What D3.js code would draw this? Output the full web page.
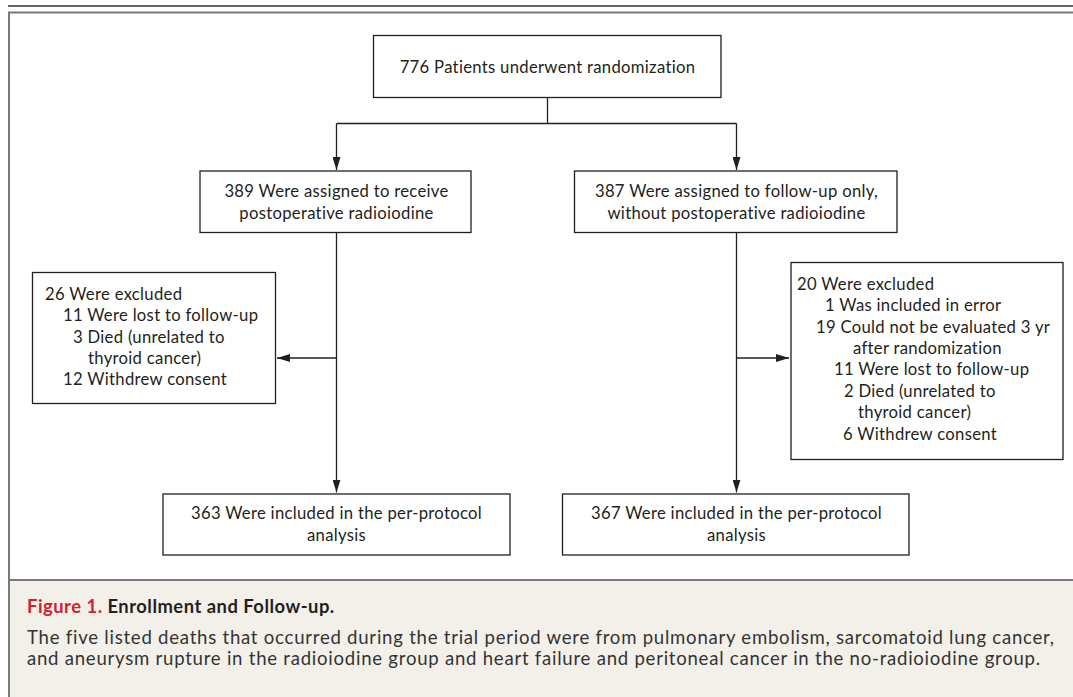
<!DOCTYPE html>
<html>
<head>
<meta charset="utf-8">
<script src="https://cdn.jsdelivr.net/npm/d3@7"></script>
<style>
  html, body { margin: 0; padding: 0; background: #fff; }
  svg { display: block; }
</style>
</head>
<body>
<div id="chart"></div>
<script>
// ---------- DATA ----------
const randomized = ["776 Patients underwent randomization"];
const armAssigned = [
  ["389 Were assigned to receive", "postoperative radioiodine"],
  ["387 Were assigned to follow-up only,", "without postoperative radioiodine"]
];
const armExcluded = [
  ["26 Were excluded", "11 Were lost to follow-up", "3 Died (unrelated to", "thyroid cancer)", "12 Withdrew consent"],
  ["20 Were excluded", "1 Was included in error", "19 Could not be evaluated 3 yr", "after randomization",
   "11 Were lost to follow-up", "2 Died (unrelated to", "thyroid cancer)", "6 Withdrew consent"]
];
const armAnalyzed = [
  ["363 Were included in the per-protocol", "analysis"],
  ["367 Were included in the per-protocol", "analysis"]
];
const captionLabel = "Figure 1.";
const captionTitle = "Enrollment and Follow-up.";
const captionBody = [
  "The five listed deaths that occurred during the trial period were from pulmonary embolism, sarcomatoid lung cancer,",
  "and aneurysm rupture in the radioiodine group and heart failure and peritoneal cancer in the no-radioiodine group."
];

// ---------- LAYOUT ----------
const W = 1073, H = 697;
const FONT = "Lato, 'Open Sans', sans-serif";
const INK = "#231f20";
const svg = d3.select("#chart").append("svg").attr("width", W).attr("height", H);

// fit a font size so that a sample string reaches a target width
function fitSize(str, target, weight, spacing) {
  const t = svg.append("text").attr("font-family", FONT).attr("font-size", 100)
    .attr("font-weight", weight || 400).attr("letter-spacing", 0).text(str);
  const w100 = t.node().getComputedTextLength();
  t.remove();
  const n = str.length;
  return (target - (spacing || 0) * n) / w100 * 100;
}
const boxSpacing = 0.3, capSpacing = 0.75;
const boxSize = (fitSize(randomized[0], 299, 400, boxSpacing) + fitSize(armExcluded[0][1], 194, 400, boxSpacing)) / 2;
const capSize = fitSize(captionBody[0], 1028, 400, capSpacing);
const titleSpacing = 0.5;
const titleSize = fitSize(captionLabel + " " + captionTitle, 308, 700, titleSpacing);

// arrow marker
const defs = svg.append("defs");
defs.append("marker").attr("id", "arr")
  .attr("viewBox", "0 0 13 8").attr("refX", 13).attr("refY", 4)
  .attr("markerWidth", 13).attr("markerHeight", 8).attr("markerUnits", "userSpaceOnUse")
  .attr("orient", "auto")
  .append("path").attr("d", "M0,0 L13,4 L0,8 Z").attr("fill", INK);

// caption background + frame
svg.append("rect").attr("x", 9).attr("y", 580).attr("width", W).attr("height", H - 580).attr("fill", "#f3f0ea");
svg.append("line").attr("x1", 8).attr("x2", W).attr("y1", 6).attr("y2", 6).attr("stroke", "#333").attr("stroke-width", 1.6);
svg.append("path").attr("d", `M${W + 5},12.5 H9 V${H + 5}`).attr("fill", "none").attr("stroke", "#7a7a7a").attr("stroke-width", 2);
svg.append("line").attr("x1", 9).attr("x2", W).attr("y1", 580).attr("y2", 580).attr("stroke", "#7a7a7a").attr("stroke-width", 2);

// boxes
const lineH = 21.4;
function box(x0, y0, x1, y1) {
  svg.append("rect").attr("x", x0).attr("y", y0).attr("width", x1 - x0).attr("height", y1 - y0)
    .attr("fill", "#fff").attr("stroke", INK).attr("stroke-width", 1.3);
}
function centeredLines(lines, cx, cy) {
  const n = lines.length;
  svg.append("g").selectAll("text").data(lines).join("text")
    .attr("x", cx).attr("y", (d, i) => cy + (i - (n - 1) / 2) * lineH)
    .attr("dy", "0.35em").attr("text-anchor", "middle")
    .attr("font-family", FONT).attr("font-size", boxSize).attr("letter-spacing", boxSpacing).attr("fill", INK)
    .text(d => d);
}
function leftLines(lines, xs, y0) {
  svg.append("g").selectAll("text").data(lines).join("text")
    .attr("x", (d, i) => xs[i]).attr("y", (d, i) => y0 + i * lineH)
    .attr("dy", "0.35em").attr("font-family", FONT).attr("font-size", boxSize).attr("letter-spacing", boxSpacing).attr("fill", INK)
    .text(d => d);
}
function link(points, arrow) {
  svg.append("path").attr("d", d3.line()(points)).attr("fill", "none")
    .attr("stroke", INK).attr("stroke-width", 1.3)
    .attr("marker-end", arrow ? "url(#arr)" : null);
}

const cxTop = 547.5, cxL = 336.5, cxR = 736.5;

// connectors
link([[cxTop, 98], [cxTop, 123.5]], false);
link([[cxL, 123.5], [cxR, 123.5]], false);
link([[cxL, 123.5], [cxL, 170]], true);
link([[cxR, 123.5], [cxR, 170]], true);
link([[cxL, 233], [cxL, 492.5]], true);
link([[cxR, 233], [cxR, 492.5]], true);
link([[cxL, 358], [277, 358]], true);
link([[cxR, 358], [789, 358]], true);

// top box
box(373.5, 35.5, 721, 97.5);
centeredLines(randomized, cxTop, 67);

// assigned boxes
box(200, 171, 471, 232.5);
centeredLines(armAssigned[0], cxL, 202);
box(574.5, 171, 897, 232.5);
centeredLines(armAssigned[1], cxR, 202);

// excluded boxes
box(32.5, 272.5, 275.5, 403.5);
leftLines(armExcluded[0], [45, 63, 73, 88, 63], 294);
box(791, 262.5, 1063, 459.5);
leftLines(armExcluded[1], [797, 825, 816, 853, 834, 844, 858, 843], 284);

// analyzed boxes
box(163, 494, 510, 555);
centeredLines(armAnalyzed[0], cxL, 524);
box(562.5, 494, 909, 555);
centeredLines(armAnalyzed[1], cxR, 524);

// caption
const cap = svg.append("text").attr("x", 27).attr("y", 607).attr("dy", "0.35em")
  .attr("font-family", FONT).attr("font-size", titleSize).attr("letter-spacing", titleSpacing);
cap.append("tspan").attr("fill", "#d3202f").attr("font-weight", 700).text(captionLabel + " ");
cap.append("tspan").attr("fill", "#231f20").attr("font-weight", 700).text(captionTitle);
svg.append("g").selectAll("text").data(captionBody).join("text")
  .attr("x", 27).attr("y", (d, i) => 637 + i * 21.5).attr("dy", "0.35em")
  .attr("font-family", FONT).attr("font-size", capSize).attr("letter-spacing", capSpacing).attr("fill", "#333")
  .text(d => d);
</script>
</body>
</html>
